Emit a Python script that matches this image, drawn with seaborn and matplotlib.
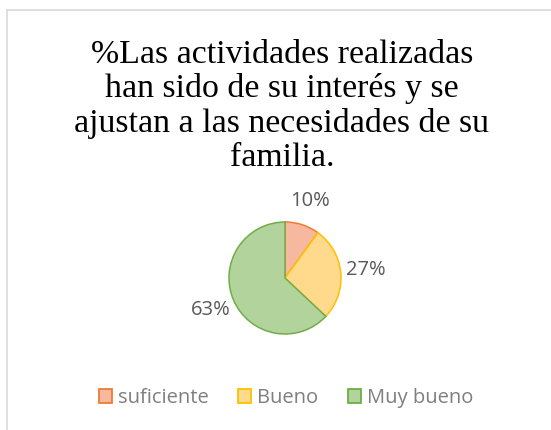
import matplotlib
matplotlib.use("Agg")
import matplotlib.pyplot as plt
import seaborn as sns
from matplotlib.patches import Patch

# datos
categorias = ['suficiente', 'Bueno', 'Muy bueno']
porcentajes = [10, 27, 63]
relleno = ['#f6b9a0', '#ffd98c', '#b2d49c']
bordes = ['#ed7d31', '#ffc000', '#70ad47']
titulo = '%Las actividades realizadas\nhan sido de su interés y se\najustan a las necesidades de su\nfamilia.'

sns.set_theme(style='white')
plt.rcParams['font.family'] = ['Open Sans', 'DejaVu Sans']

fig = plt.figure(figsize=(5.51, 4.30), dpi=100)
fig.patch.set_facecolor('white')

# borde del gráfico (sólo arriba e izquierda visibles)
fig.add_artist(plt.Line2D([6.5 / 551, 1], [1 - 9.5 / 430, 1 - 9.5 / 430],
                          color='#d9d9d9', lw=1.2, transform=fig.transFigure))
fig.add_artist(plt.Line2D([6.5 / 551, 6.5 / 551], [0, 1 - 9.5 / 430],
                          color='#d9d9d9', lw=1.2, transform=fig.transFigure))

# pie
cx, cy, r = 285 / 551, 1 - 278 / 430, 56
ax = fig.add_axes([cx - r / 551, cy - r / 430, 2 * r / 551, 2 * r / 430])
wedges, _, autotexts = ax.pie(
    porcentajes, colors=relleno, startangle=90, counterclock=False,
    autopct='%1.0f%%', pctdistance=1.45,
    wedgeprops=dict(linewidth=1.1),
    textprops=dict(color='#595959', fontsize=14.5))
for w, c in zip(wedges, bordes):
    w.set_edgecolor(c)
ax.set_xlim(-1, 1)
ax.set_ylim(-1, 1)
ax.set_aspect('equal')
ax.axis('off')

fig.text(282 / 551, 1 - 106 / 430, titulo, ha='center', va='center',
         fontsize=24.4, family='Liberation Serif', color='#000000',
         linespacing=1.15)

handles = [Patch(facecolor=f, edgecolor=e, linewidth=1.3, label=l)
           for f, e, l in zip(relleno, bordes, categorias)]
fig.legend(handles=handles, loc='center', bbox_to_anchor=(286 / 551, 1 - 398 / 430),
           ncol=3, frameon=False, fontsize=14.5, labelcolor='#7f7f7f',
           handlelength=0.65, handleheight=0.65, handletextpad=0.3,
           columnspacing=1.45, borderpad=0, borderaxespad=0)

fig.savefig('out.png', dpi=100, facecolor='white')
